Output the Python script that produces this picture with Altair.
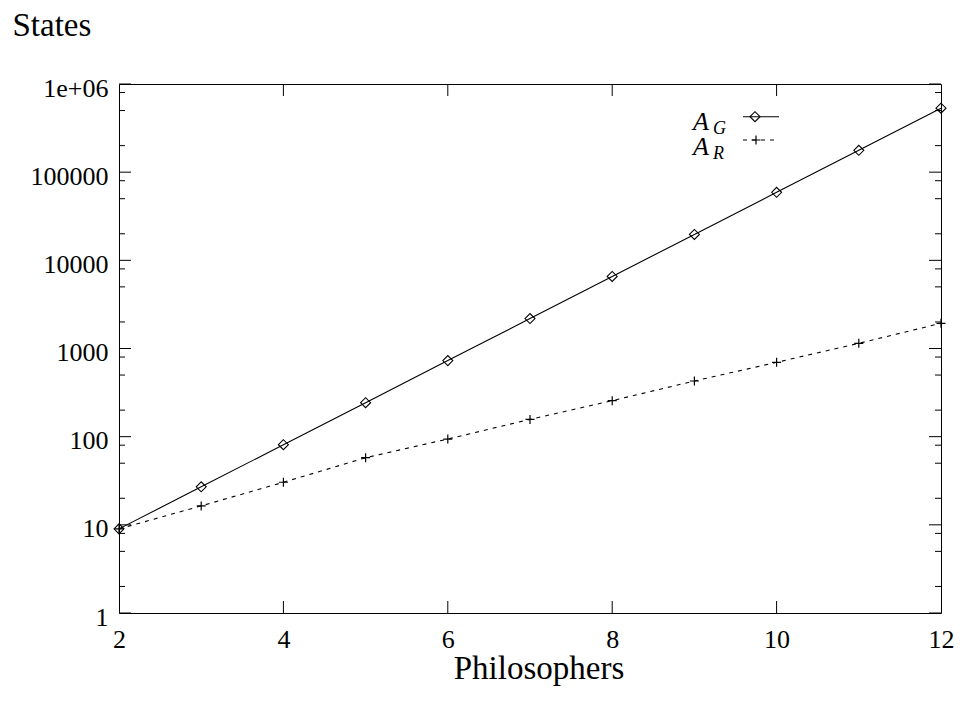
import altair as alt
import pandas as pd

# ---- data ----
philosophers = [2, 3, 4, 5, 6, 7, 8, 9, 10, 11, 12]
states_AG = [9, 27, 81, 243, 729, 2187, 6561, 19683, 59049, 177147, 531441]
states_AR = [9, 16.4, 30.4, 57.7, 94, 157, 256, 428, 697, 1145, 1932]

x_ticks = [2, 4, 6, 8, 10, 12]
x_inner_ticks = [4, 6, 8, 10]
y_ticks = [1, 10, 100, 1000, 10000, 100000, 1000000]
y_minor = [m * 10 ** d for d in range(6) for m in (2, 5, 8)]

W, H = 822, 529
FONT = "Liberation Serif"

df_g = pd.DataFrame({"x": philosophers, "y": states_AG})
df_r = pd.DataFrame({"x": philosophers, "y": states_AR})
df_yt = pd.DataFrame({"y": y_ticks})
df_ym = pd.DataFrame({"y": y_minor})
df_xt = pd.DataFrame({"x": x_inner_ticks})
df_one = pd.DataFrame({"k": [0]})

xs = alt.Scale(domain=[2, 12], nice=False, zero=False)
ys = alt.Scale(type="log", domain=[1, 1000000], nice=False)

x_axis = alt.Axis(values=x_ticks, ticks=False, tickSize=0, domain=False, grid=False,
                  labelFont=FONT, labelFontSize=26, labelColor="black",
                  labelBaseline="top", labelPadding=13, labelFlush=False, labelOverlap=False,
                  title="Philosophers", titleFont=FONT, titleFontSize=33,
                  titleFontWeight="normal", titleColor="black",
                  titleX=419.5, titleY=65, titleAlign="center", titleBaseline="alphabetic",
                  titleAnchor="start")
y_axis = alt.Axis(values=y_ticks, ticks=False, tickSize=0, domain=False, grid=False,
                  labelFont=FONT, labelFontSize=26, labelColor="black",
                  labelBaseline="alphabetic", labelOffset=12, labelPadding=11,
                  labelFlush=False, labelOverlap=False,
                  labelExpr="datum.value >= 1000000 ? '1e+06' : format(datum.value, 'd')",
                  title="States", titleFont=FONT, titleFontSize=33,
                  titleFontWeight="normal", titleColor="black",
                  titleAngle=0, titleX=-107, titleY=-49, titleAlign="left",
                  titleBaseline="alphabetic", titleAnchor="start")

X = alt.X("x:Q", scale=xs, axis=x_axis)
Y = alt.Y("y:Q", scale=ys, axis=y_axis)

line_g = alt.Chart(df_g).mark_line(color="black", strokeWidth=1.1).encode(x=X, y=Y)
pts_g = alt.Chart(df_g).mark_point(shape="diamond", filled=False, color="black",
                                   strokeWidth=1.1, size=100, opacity=1).encode(x=X, y=Y)
line_r = alt.Chart(df_r).mark_line(color="black", strokeWidth=1.1, strokeDash=[4, 5]).encode(x=X, y=Y)
PLUS = "M-1,0L1,0M0,-1L0,1"
pts_r = alt.Chart(df_r).mark_point(shape=PLUS, filled=False, color="black",
                                   strokeWidth=1.2, size=81, opacity=1).encode(x=X, y=Y)

# inward ticks (gnuplot style), on all four sides
def yrule(df, x0, x1):
    return alt.Chart(df).mark_rule(color="black", strokeWidth=1).encode(
        y=Y, x=alt.value(x0), x2=alt.value(x1))

def xrule(df, y0, y1):
    return alt.Chart(df).mark_rule(color="black", strokeWidth=1).encode(
        x=X, y=alt.value(y0), y2=alt.value(y1))

ticks = [
    yrule(df_yt, 0, 12), yrule(df_yt, W - 12, W),
    yrule(df_ym, 0, 6), yrule(df_ym, W - 6, W),
    xrule(df_xt, H, H - 12), xrule(df_xt, 0, 12),
]

# key (legend) drawn in gnuplot style
def key_text(txt, x, y, size):
    return alt.Chart(df_one).mark_text(text=txt, font=FONT, fontSize=size, fontStyle="italic",
                                       align="left", baseline="alphabetic", color="black").encode(
        x=alt.value(x), y=alt.value(y))

key = [
    key_text("A", 574, 46, 26), key_text("G", 594, 50, 18),
    key_text("A", 574, 71, 26), key_text("R", 594, 75, 18),
    alt.Chart(df_one).mark_rule(color="black", strokeWidth=1.1).encode(
        x=alt.value(624), x2=alt.value(660), y=alt.value(32.7)),
    alt.Chart(df_one).mark_point(shape="diamond", filled=False, color="black",
                                 strokeWidth=1.1, size=100, opacity=1).encode(
        x=alt.value(636), y=alt.value(32.7)),
    alt.Chart(df_one).mark_rule(color="black", strokeWidth=1.1, strokeDash=[4, 5]).encode(
        x=alt.value(624), x2=alt.value(660), y=alt.value(56)),
    alt.Chart(df_one).mark_point(shape=PLUS, filled=False, color="black",
                                 strokeWidth=1.2, size=81, opacity=1).encode(
        x=alt.value(637), y=alt.value(56)),
]

chart = alt.layer(line_g, line_r, *ticks, pts_g, pts_r, *key).properties(
    width=W, height=H,
    autosize=alt.AutoSizeParams(type="none"),
    padding={"left": 111, "top": 76, "right": 13, "bottom": 90},
    background="white",
).configure_view(stroke="black", strokeWidth=1)

chart.save("out.html", embed_options={"renderer": "svg", "actions": False})
